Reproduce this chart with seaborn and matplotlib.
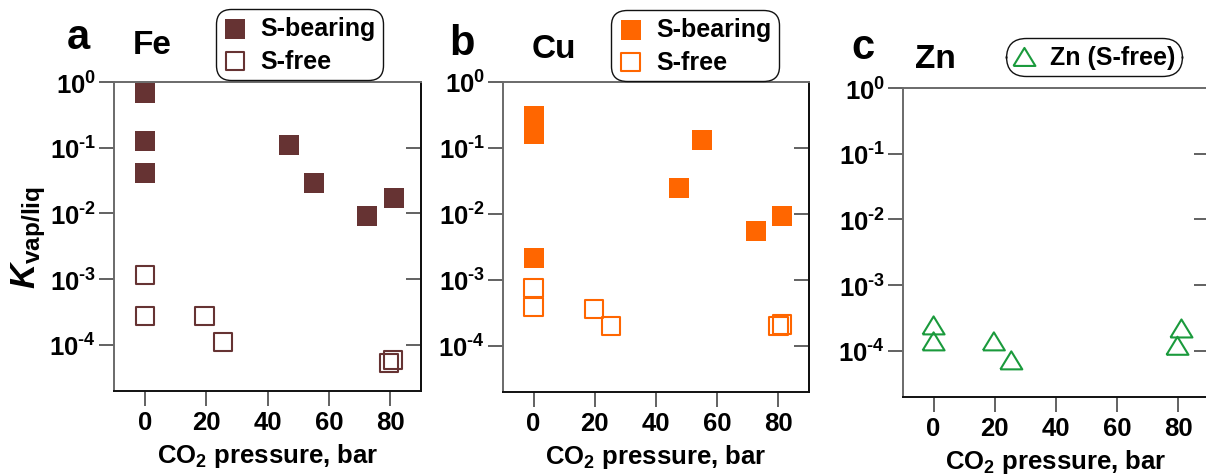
import numpy as np
import pandas as pd
import matplotlib
matplotlib.use("Agg")
import matplotlib.pyplot as plt
import seaborn as sns
from matplotlib.ticker import FixedLocator, FuncFormatter, NullLocator

# ---------------- data ----------------
fe_sb_x = [0, 0, 0, 47.0, 55.0, 72.5, 81.3]
fe_sb_y = [0.69, 0.128, 0.042, 0.111, 0.0295, 0.0093, 0.017]
fe_sf_x = [0, 0, 19.5, 25.4, 79.7, 81.0]
fe_sf_y = [1.15e-3, 2.75e-4, 2.75e-4, 1.1e-4, 5.3e-5, 5.9e-5]

cu_sb_x = [0, 0, 0, 47.4, 54.9, 72.7, 81.2]
cu_sb_y = [0.30, 0.16, 2.15e-3, 0.0247, 0.132, 0.0055, 0.0093]
cu_sf_x = [0, 0, 19.8, 25.3, 80.0, 81.2]
cu_sf_y = [7.6e-4, 3.9e-4, 3.6e-4, 2.0e-4, 2.0e-4, 2.1e-4]

zn_sf_x = [0, 0, 19.7, 25.4, 81.0, 79.7]
zn_sf_y = [2.45e-4, 1.4e-4, 1.4e-4, 7.2e-5, 2.2e-4, 1.2e-4]

x_ticks = [0, 20, 40, 60, 80]
y_ticks = [1e-4, 1e-3, 1e-2, 1e-1, 1e0]
panel_letters = ["a", "b", "c"]
panel_titles = ["Fe", "Cu", "Zn"]
legend_labels_ab = ["S-bearing", "S-free"]
legend_label_c = "Zn (S-free)"
x_label = "CO$_2$ pressure, bar"
y_label = r"$\mathbfit{K}_{\mathbf{vap/liq}}$"

FE_C = "#663333"
CU_C = "#FF6600"
ZN_C = "#1A9A3C"

# ---------------- style ----------------
sns.set_theme(style="white")
plt.rcParams["font.family"] = ["Liberation Sans", "DejaVu Sans"]
plt.rcParams["font.weight"] = "bold"
plt.rcParams["text.color"] = "black"
plt.rcParams["axes.labelcolor"] = "black"
plt.rcParams["xtick.labelcolor"] = "black"
plt.rcParams["ytick.labelcolor"] = "black"
plt.rcParams["mathtext.fontset"] = "custom"
plt.rcParams["mathtext.rm"] = "Liberation Sans:bold"
plt.rcParams["mathtext.bf"] = "Liberation Sans:bold"
plt.rcParams["mathtext.it"] = "Liberation Sans:italic:bold"
plt.rcParams["mathtext.bfit"] = "Liberation Sans:italic:bold"
plt.rcParams["mathtext.default"] = "bf"

W, H = 1206, 477
fig = plt.figure(figsize=(W / 100, H / 100), dpi=100)


def px_axes(left, right, top, bottom):
    return fig.add_axes([left / W, 1 - bottom / H, (right - left) / W, (bottom - top) / H])


axes = [px_axes(114, 421, 83, 392), px_axes(503, 809, 83, 393), px_axes(903, 1209, 89, 398)]

tri = [(-1, -0.82), (1, -0.82), (0, 0.82), (-1, -0.82)]


def log_label(v, p):
    e = int(round(np.log10(v)))
    es = ("\u2010%d" % abs(e)) if e < 0 else "%d" % e
    return r"$\mathbf{10^{%s}}$" % es


fmt = FuncFormatter(log_label)


def style_axis(ax):
    ax.set_yscale("log")
    ax.set_xlim(-10, 90)
    ax.set_ylim(10 ** -4.7, 1)
    ax.xaxis.set_major_locator(FixedLocator(x_ticks))
    ax.yaxis.set_major_locator(FixedLocator(y_ticks))
    ax.yaxis.set_major_formatter(fmt)
    ax.yaxis.set_minor_locator(NullLocator())
    ax.xaxis.set_minor_locator(NullLocator())
    ax.tick_params(axis="both", which="major", direction="out", length=11, width=1.3,
                   color="#555555", labelcolor="black", labelsize=18.5, bottom=True, left=True)
    ax.tick_params(axis="x", pad=3)
    ax.tick_params(axis="y", pad=2)
    for lbl in ax.get_xticklabels() + ax.get_yticklabels():
        lbl.set_fontweight("bold")
    for side, col in [("left", "#6a6a6a"), ("top", "#6a6a6a"), ("right", "#111111"), ("bottom", "#111111")]:
        ax.spines[side].set_visible(True)
        ax.spines[side].set_color(col)
        ax.spines[side].set_linewidth(1.4)
    sec = ax.secondary_yaxis("right")
    sec.yaxis.set_major_locator(FixedLocator(y_ticks[:-1]))
    sec.yaxis.set_minor_locator(NullLocator())
    sec.tick_params(axis="y", which="major", direction="in", length=11, width=1.3,
                    color="#555555", labelright=False, right=True)
    sec.spines["right"].set_color("#111111")
    sec.spines["right"].set_linewidth(1.4)
    ax.set_xlabel(x_label, fontsize=18.5, fontweight="bold", labelpad=5, color="black")
    ax.set_facecolor("white")


def make_legend(ax, cx, cy, rsize, bpad=0.3):
    leg = ax.legend(loc="center", bbox_to_anchor=(cx / W, 1 - cy / H), bbox_transform=fig.transFigure,
                    fontsize=18, frameon=True, fancybox=True, borderpad=bpad, handlelength=0.95,
                    handletextpad=0.55, labelspacing=0.33, borderaxespad=0, scatterpoints=1)
    fr = leg.get_frame()
    fr.set_edgecolor("#111111")
    fr.set_linewidth(1.0)
    fr.set_facecolor("white")
    fr.set_alpha(1)
    fr.set_boxstyle(f"round,pad=0,rounding_size={rsize}")
    for t in leg.get_texts():
        t.set_fontweight("bold")
        t.set_color("black")
    return leg


# Panel a: Fe
ax = axes[0]
style_axis(ax)
sns.scatterplot(x=fe_sb_x, y=fe_sb_y, ax=ax, marker="s", s=228, color=FE_C, linewidth=0,
                label=legend_labels_ab[0], zorder=3)
sns.scatterplot(x=fe_sf_x, y=fe_sf_y, ax=ax, marker="s", s=172, color=FE_C, facecolor="none",
                edgecolor=FE_C, linewidth=1.5, label=legend_labels_ab[1], zorder=3)
make_legend(ax, 299.5, 45.5, 0.62)

# Panel b: Cu
ax = axes[1]
style_axis(ax)
sns.scatterplot(x=cu_sb_x, y=cu_sb_y, ax=ax, marker="s", s=228, color=CU_C, linewidth=0,
                label=legend_labels_ab[0], zorder=3)
sns.scatterplot(x=cu_sf_x, y=cu_sf_y, ax=ax, marker="s", s=172, color=CU_C, facecolor="none",
                edgecolor=CU_C, linewidth=1.5, label=legend_labels_ab[1], zorder=3)
make_legend(ax, 695, 46.5, 0.62)

# Panel c: Zn
ax = axes[2]
style_axis(ax)
sns.scatterplot(x=zn_sf_x, y=zn_sf_y, ax=ax, marker=tri, s=250, color=ZN_C, facecolor="none",
                edgecolor=ZN_C, linewidth=1.5, label=legend_label_c, zorder=3)
make_legend(ax, 1094, 57.5, 0.8, bpad=0.28)

# y label on panel a
axes[0].set_ylabel(y_label, fontsize=25, color="black")
axes[0].yaxis.set_label_coords(-0.215, 0.5)
for ax in axes[1:]:
    ax.set_ylabel("")

# panel letters and titles
for (lx, ly), letter in zip([(67, 49), (449, 55), (851, 59)], panel_letters):
    fig.text(lx / W, 1 - ly / H, letter, fontsize=30, fontweight="bold", ha="left", va="baseline",
             color="black")
for (tx, ty), title in zip([(133, 54), (532, 58), (915, 68)], panel_titles):
    fig.text(tx / W, 1 - ty / H, title, fontsize=24, fontweight="bold", ha="left", va="baseline",
             color="black")

fig.savefig("out.png", dpi=100, facecolor="white")
